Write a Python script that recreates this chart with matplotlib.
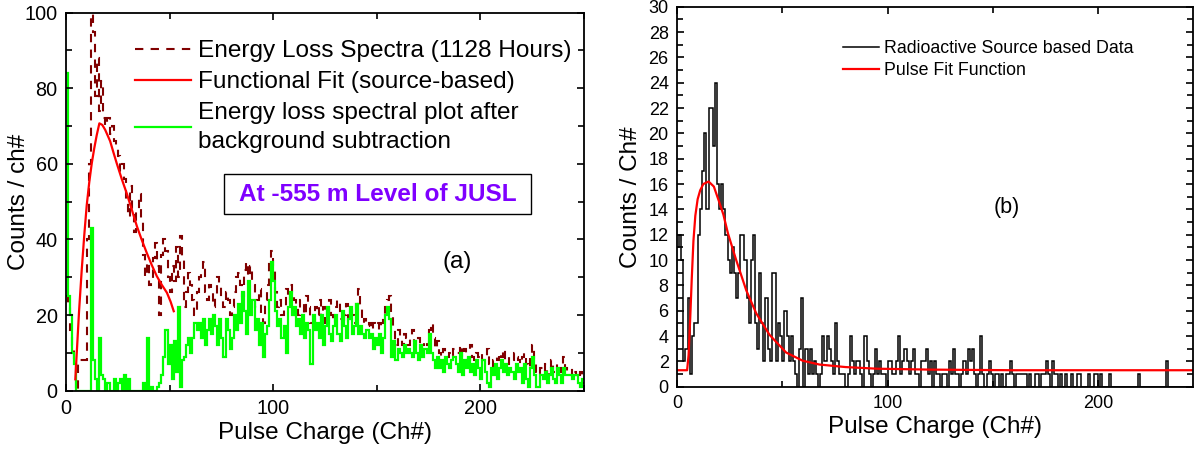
import matplotlib
matplotlib.use("Agg")
import matplotlib.pyplot as plt
import numpy as np
from matplotlib.patches import Rectangle
from matplotlib.ticker import MultipleLocator

plt.rcParams['font.family'] = ['Liberation Sans', 'DejaVu Sans']

# ---------------- Panel (a) data ----------------
raw_counts = [25, 22, 16, 12, 8, 0, 8, 8, 8, 8, 40, 60, 105, 95, 78, 88, 74, 82, 72, 70,
              72, 68, 70, 66, 64, 62, 58, 60, 56, 50, 46, 54, 48, 42, 48, 52, 45, 36, 30, 34,
              28, 29, 35, 39, 33, 20, 36, 40, 37, 30, 26, 33, 29, 38, 30, 41, 35, 22, 26, 31,
              28, 24, 20, 26, 30, 32, 34, 26, 24, 28, 26, 22, 25, 30, 28, 24, 22, 26, 24, 20,
              22, 26, 30, 31, 28, 25, 32, 34, 30, 33, 28, 22, 24, 27, 20, 18, 24, 28, 34, 37,
              33, 26, 22, 24, 20, 22, 27, 24, 28, 26, 24, 22, 20, 24, 23, 20, 25, 22, 18, 16,
              22, 20, 24, 19, 22, 18, 21, 24, 20, 18, 22, 24, 19, 17, 20, 23, 18, 22, 20, 18,
              23, 27, 22, 18, 19, 17, 18, 16, 18, 17, 18, 16, 18, 20, 22, 24, 25, 20, 16, 12,
              16, 14, 12, 15, 14, 12, 14, 16, 13, 12, 14, 11, 12, 13, 12, 16, 18, 14, 11, 13,
              10, 9, 11, 10, 9, 10, 9, 11, 10, 10, 12, 9, 11, 10, 8, 12, 9, 8, 10, 9,
              10, 8, 9, 11, 7, 6, 8, 9, 8, 10, 9, 11, 8, 7, 9, 8, 10, 9, 8, 7,
              9, 10, 7, 6, 9, 12, 7, 5, 4, 6, 5, 7, 4, 6, 8, 5, 4, 7, 6, 5,
              9, 6, 5, 4, 6, 5, 4, 3, 5, 2]

sub_counts = [84, 25, 20, 10, 7, 0, 0, 0, 0, 0, 0, 0, 43, 8, 3, 0, 14, 4, 3, 0,
              2, 0, 0, 3, 0, 2, 3, 0, 4, 0, 3, 0, 0, 0, 0, 0, 0, 2, 0, 14,
              0, 1, 0, 0, 1, 2, 4, 9, 16, 7, 12, 3, 13, 5, 22, 1, 8, 9, 12, 14,
              10, 14, 18, 16, 18, 14, 19, 12, 16, 19, 15, 20, 17, 12, 19, 14, 9, 19, 16, 11,
              14, 20, 16, 23, 18, 26, 21, 15, 29, 20, 24, 16, 19, 12, 18, 9, 15, 17, 24, 34,
              29, 21, 17, 19, 14, 17, 10, 22, 26, 20, 22, 17, 19, 15, 20, 14, 18, 16, 7, 20,
              16, 18, 14, 20, 12, 17, 22, 15, 13, 17, 20, 15, 13, 21, 17, 14, 19, 22, 15, 17,
              23, 15, 17, 15, 14, 16, 14, 15, 11, 14, 12, 15, 10, 14, 20, 22, 19, 9, 13, 8,
              11, 10, 9, 12, 10, 11, 10, 9, 13, 10, 8, 12, 9, 11, 10, 15, 10, 8, 6, 9,
              6, 8, 5, 9, 7, 6, 8, 9, 7, 5, 10, 4, 8, 6, 9, 5, 7, 4, 8, 6,
              3, 8, 5, 2, 1, 6, 4, 7, 3, 6, 8, 5, 7, 4, 6, 5, 3, 7, 5, 6,
              2, 7, 3, 1, 6, 9, 4, 1, 1, 4, 3, 5, 2, 4, 6, 3, 2, 6, 4, 2,
              6, 4, 4, 4, 3, 4, 4, 2, 1, 3]

fit_a_x = [4.5, 5.2, 6.3, 7.6, 8.8, 10.0, 11.2, 12.4, 13.6, 14.8, 16.1, 17.5, 18.9, 20.1,
           21.3, 22.9, 24.5, 26.9, 29.3, 31.8, 34.2, 36.6, 39.0, 41.4, 43.8, 46.2, 48.7,
           50.5, 52.0]
fit_a_y = [3, 10, 21, 32, 41, 49, 55, 60, 64, 67.5, 70.7, 70.3, 69, 67.5,
           66, 63, 60.1, 56, 52.2, 47.8, 43.5, 39.8, 36.4, 33.2, 30.3, 28, 25.9,
           23.5, 21]

# ---------------- Panel (b) data ----------------
src_counts = [11, 12, 10, 2, 3, 7, 1, 4, 5, 5, 12, 14, 17, 20, 14, 22, 22, 19, 24, 16,
              14, 16, 14, 12, 10, 9, 11, 9, 7, 9, 12, 12, 10, 7, 5, 10, 12, 5, 3, 9,
              5, 2, 7, 3, 2, 9, 9, 2, 5, 4, 2, 6, 4, 2, 4, 2, 1, 0, 3, 7,
              0, 3, 1, 3, 1, 2, 1, 0, 1, 4, 2, 4, 3, 2, 1, 5, 2, 1, 1, 1,
              0, 1, 4, 2, 1, 2, 2, 1, 0, 4, 2, 1, 0, 1, 3, 1, 2, 1, 1, 0,
              2, 2, 1, 1, 2, 4, 1, 2, 3, 2, 1, 2, 3, 1, 1, 0, 2, 2, 3, 1,
              2, 0, 2, 1, 1, 0, 1, 1, 0, 2, 1, 3, 1, 1, 0, 1, 2, 1, 3, 2,
              3, 1, 0, 1, 4, 1, 0, 1, 2, 1, 0, 1, 1, 0, 1, 0, 1, 1, 2, 1,
              0, 1, 1, 1, 1, 1, 0, 1, 0, 0, 1, 1, 0, 1, 1, 2, 1, 0, 2, 1,
              1, 0, 1, 0, 1, 0, 0, 1, 0, 0, 1, 1, 0, 0, 0, 1, 0, 0, 1, 1,
              0, 1, 0, 0, 0, 1, 0, 0, 0, 0, 0, 0, 0, 0, 0, 0, 0, 0, 0, 1,
              0, 0, 0, 0, 0, 0, 0, 0, 0, 0, 0, 0, 2, 0, 0, 0, 0, 0, 0, 0,
              0, 0, 0, 0, 0]

fit_b_x = [0, 4.8, 5.5, 6.3, 7.0, 7.8, 8.7, 9.8, 11.0, 12.5, 15.0, 17.5, 20.0, 22.0,
           24.2, 28.1, 32.9, 37.6, 43.9, 51.8, 59.7, 67.6, 80, 95, 120, 160, 245]
fit_b_y = [1.3, 1.3, 2.5, 5.5, 8.5, 11.5, 13.5, 14.8, 15.5, 16.0, 16.2, 15.8, 14.6, 13.6,
           12.1, 10.0, 7.6, 5.8, 4.1, 2.7, 2.05, 1.75, 1.55, 1.42, 1.35, 1.3, 1.3]

W, H = 1204, 450
fig = plt.figure(figsize=(W / 100, H / 100), dpi=100)

# ---------------- Panel (a) ----------------
ax1 = fig.add_axes([66 / W, 1 - 390.6 / H, (584 - 66) / W, (390.6 - 12.6) / H])
edges_a = np.arange(len(raw_counts) + 1)
ax1.stairs(raw_counts, edges_a, color='#800000', lw=1.5, linestyle=(0, (4, 3.5)),
           baseline=None, label='Energy Loss Spectra (1128 Hours)')
ax1.plot(fit_a_x, fit_a_y, color='#ff0000', lw=1.6, label='Functional Fit (source-based)')
ax1.stairs(sub_counts, edges_a, color='#00ff00', lw=1.6, baseline=None,
           label='Energy loss spectral plot after\nbackground subtraction')
ax1.set_xlim(0, 250)
ax1.set_ylim(0, 100)
ax1.xaxis.set_major_locator(MultipleLocator(100))
ax1.xaxis.set_minor_locator(MultipleLocator(50))
ax1.yaxis.set_major_locator(MultipleLocator(20))
ax1.yaxis.set_minor_locator(MultipleLocator(10))
ax1.tick_params(which='both', direction='in', top=True, right=True, width=1.2,
                labelsize=14.3, pad=6)
ax1.tick_params(which='major', length=5)
ax1.tick_params(which='minor', length=4.5)
for s in ax1.spines.values():
    s.set_linewidth(1.3)
ax1.set_xlabel('Pulse Charge (Ch#)', fontsize=17.5, labelpad=3)
ax1.set_ylabel('Counts / ch#', fontsize=17.5)
ax1.yaxis.set_label_coords(-0.07, 0.5)
leg1 = ax1.legend(loc='upper left', bbox_to_anchor=(0.10, 0.972), frameon=False,
                  fontsize=17.6, handlelength=2.3, handletextpad=0.3,
                  labelspacing=0.36, borderaxespad=0.3)
for t in leg1.get_texts():
    t.set_linespacing(1.4)
ax1.add_patch(Rectangle((0.3048, 0.467), 0.897 - 0.3048, 0.573 - 0.467,
                        transform=ax1.transAxes, fill=False, ec='black', lw=1.0))
ax1.text(0.601, 0.520, 'At -555 m Level of JUSL', transform=ax1.transAxes,
         ha='center', va='center', fontsize=17.6, fontweight='bold', color='#7f00ff')
ax1.text(0.755, 0.339, '(a)', transform=ax1.transAxes, ha='center', va='center',
         fontsize=17.5)

# ---------------- Panel (b) ----------------
ax2 = fig.add_axes([677 / W, 1 - 386.7 / H, (1193 - 677) / W, (386.7 - 6.7) / H])
edges_b = np.arange(len(src_counts) + 1)
ax2.stairs(src_counts, edges_b, color='black', lw=1.1, baseline=None,
           label='Radioactive Source based Data')
ax2.plot(fit_b_x, fit_b_y, color='#ff0000', lw=1.6, label='Pulse Fit Function')
ax2.set_xlim(0, 245)
ax2.set_ylim(0, 30)
ax2.xaxis.set_major_locator(MultipleLocator(100))
ax2.xaxis.set_minor_locator(MultipleLocator(50))
ax2.yaxis.set_major_locator(MultipleLocator(2))
ax2.yaxis.set_minor_locator(MultipleLocator(1))
ax2.tick_params(which='both', direction='in', top=True, right=True, width=1.2,
                labelsize=13, pad=6)
ax2.tick_params(which='major', length=5)
ax2.tick_params(which='minor', length=4.5)
for s in ax2.spines.values():
    s.set_linewidth(1.3)
ax2.set_xlabel('Pulse Charge (Ch#)', fontsize=17.5, labelpad=3)
ax2.set_ylabel('Counts / Ch#', fontsize=17.5)
ax2.yaxis.set_label_coords(-0.068, 0.5)
ax2.legend(loc='upper left', bbox_to_anchor=(0.298, 0.945), frameon=False,
           fontsize=12.8, handlelength=2.0, handletextpad=0.3, labelspacing=0.3,
           borderaxespad=0.3)
ax2.text(0.64, 0.472, '(b)', transform=ax2.transAxes, ha='center', va='center',
         fontsize=15.5)

fig.savefig('out.png', dpi=100)
